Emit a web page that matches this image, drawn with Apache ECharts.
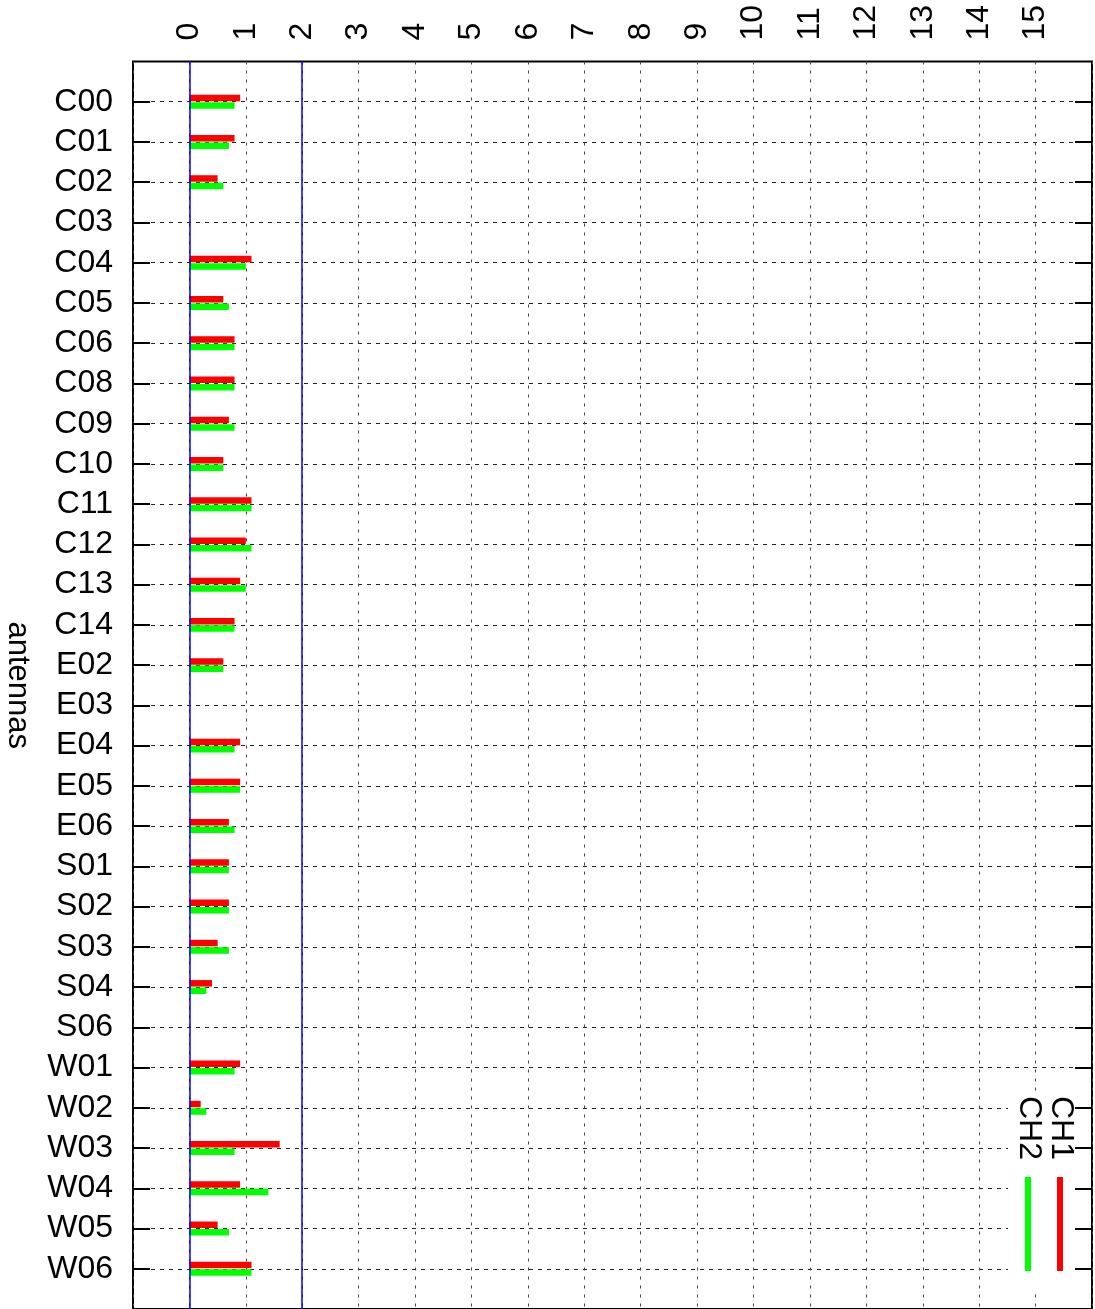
<!DOCTYPE html>
<html>
<head>
<meta charset="utf-8">
<script src="https://cdn.jsdelivr.net/npm/echarts@6/dist/echarts.min.js"></script>
<style>
  html, body { margin: 0; padding: 0; background: #fff; }
  #chart { width: 1095px; height: 1309px; }
</style>
</head>
<body>
<div id="chart"></div>
<script>
// Antenna names, top to bottom
const antennas = ['C00','C01','C02','C03','C04','C05','C06','C08','C09','C10',
  'C11','C12','C13','C14','E02','E03','E04','E05','E06','S01',
  'S02','S03','S04','S06','W01','W02','W03','W04','W05','W06'];

// Per-antenna values for the two channels (null = no measurement)
const ch1 = [0.9,0.8,0.5,null,1.1,0.6,0.8,0.8,0.7,0.6,
  1.1,1.0,0.9,0.8,0.6,null,0.9,0.9,0.7,0.7,
  0.7,0.5,0.4,null,0.9,0.2,1.6,0.9,0.5,1.1];
const ch2 = [0.8,0.7,0.6,null,1.0,0.7,0.8,0.8,0.8,0.6,
  1.1,1.1,1.0,0.8,0.6,null,0.8,0.9,0.8,0.7,
  0.7,0.7,0.3,null,0.8,0.3,0.8,1.4,0.7,1.1];

// Value axis range and reference lines
const valueMin = -1, valueMax = 16, valueStep = 1;
const tickFirst = 0, tickLast = 15;
const referenceLines = [0, 2];

// One empty slot above and below so the rows sit one step in from the frame
const rows = [''].concat(antennas, ['']);
const pad = arr => [null].concat(arr, [null]);

const FONT = 'Liberation Sans, Arial, Helvetica, sans-serif';
const dashedRows = { color: '#222', width: 1, type: [4, 5] };
const dottedCols = { color: '#444', width: 1, type: [3, 6] };
const tick = { inside: true, length: 17, lineStyle: { color: '#000', width: 2 } };
const isRow = (i, v) => v !== '';

const chart = echarts.init(document.getElementById('chart'), null, { renderer: 'canvas' });
chart.setOption({
  animation: false,
  backgroundColor: '#fff',
  grid: { left: 133, right: 3, top: 61.5, bottom: 0, show: true,
    outerBoundsMode: 'none', containLabel: false,
    borderColor: '#000', borderWidth: 2, backgroundColor: 'transparent' },
  xAxis: [
    { type: 'value', position: 'top', min: valueMin, max: valueMax, interval: valueStep,
      axisLine: { show: false, onZero: false },
      axisTick: tick,
      axisLabel: { rotate: -90, margin: 21, fontSize: 32, fontFamily: FONT, color: '#000',
        formatter: v => (v >= tickFirst && v <= tickLast) ? String(v) : '' },
      splitLine: { show: true, lineStyle: dottedCols } },
    { type: 'value', position: 'bottom', min: valueMin, max: valueMax, interval: valueStep,
      axisLine: { show: false, onZero: false }, axisTick: tick, axisLabel: { show: false },
      splitLine: { show: false } }
  ],
  yAxis: [
    { type: 'category', data: rows, inverse: true, boundaryGap: false, position: 'left',
      axisLine: { show: false, onZero: false },
      axisTick: Object.assign({ interval: isRow }, tick),
      axisLabel: { interval: 0, margin: 20, fontSize: 32, fontFamily: FONT, color: '#000',
        padding: [4, 0, 0, 0] },
      splitLine: { show: true, interval: isRow, lineStyle: dashedRows },
      name: 'antennas', nameLocation: 'middle', nameRotate: -90, nameGap: 100,
      nameTextStyle: { fontSize: 31, fontFamily: FONT, color: '#000' } },
    { type: 'category', data: rows, inverse: true, boundaryGap: false, position: 'right',
      axisLine: { show: false, onZero: false },
      axisTick: Object.assign({ interval: isRow }, tick),
      axisLabel: { show: false }, splitLine: { show: false } }
  ],
  series: [
    { name: 'CH1', type: 'bar', xAxisIndex: 0, yAxisIndex: 0, data: pad(ch1),
      barWidth: 6.5, barGap: '15%', itemStyle: { color: '#ff0000' }, z: 3,
      markLine: { silent: true, symbol: 'none', label: { show: false },
        lineStyle: { color: '#0000ff', width: 1.5, type: 'solid' },
        data: referenceLines.map(v => ({ xAxis: v })) } },
    { name: 'CH2', type: 'bar', xAxisIndex: 0, yAxisIndex: 0, data: pad(ch2),
      barWidth: 6.5, barGap: '15%', itemStyle: { color: '#00ff00' }, z: 3 }
  ],
  graphic: [
    { type: 'rect', z: 50, shape: { x: 1008, y: 1094, width: 67, height: 198 },
      style: { fill: '#fff' } },
    { type: 'text', z: 51, x: 1061, y: 1096, rotation: -Math.PI / 2,
      style: { text: 'CH1', fill: '#000', font: '32px ' + FONT,
        textAlign: 'left', textVerticalAlign: 'middle' } },
    { type: 'text', z: 51, x: 1029, y: 1096, rotation: -Math.PI / 2,
      style: { text: 'CH2', fill: '#000', font: '32px ' + FONT,
        textAlign: 'left', textVerticalAlign: 'middle' } },
    { type: 'line', z: 51, shape: { x1: 1060, y1: 1177, x2: 1060, y2: 1271 },
      style: { stroke: '#ff0000', lineWidth: 6 } },
    { type: 'line', z: 51, shape: { x1: 1028, y1: 1177, x2: 1028, y2: 1271 },
      style: { stroke: '#00ff00', lineWidth: 6 } }
  ]
});
</script>
</body>
</html>
